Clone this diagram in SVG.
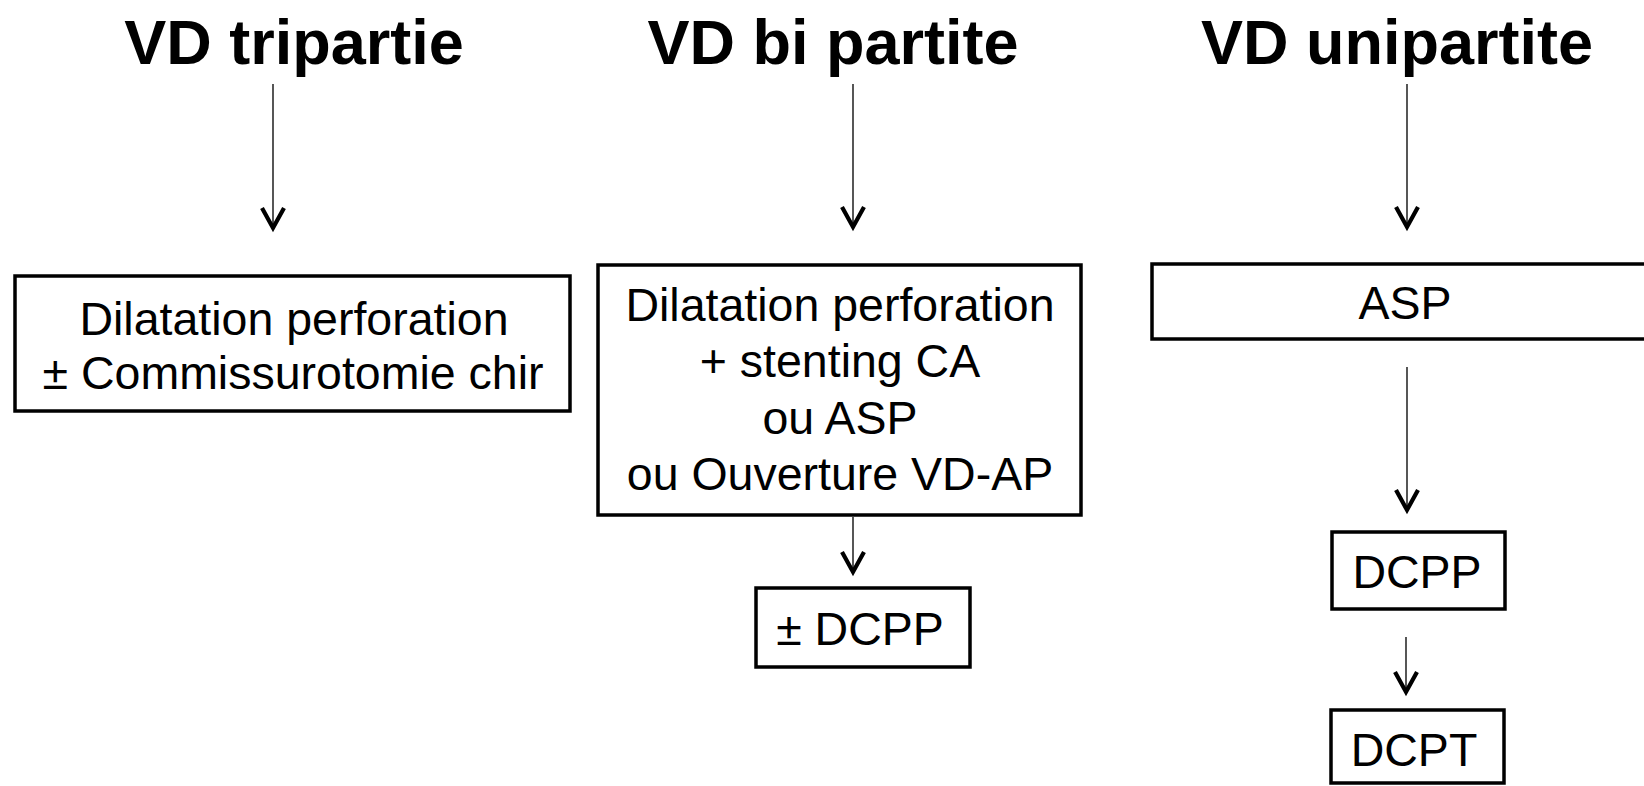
<svg xmlns="http://www.w3.org/2000/svg" width="1644" height="786" viewBox="0 0 1644 786">
<style>
.title{font-family:"Liberation Sans",Arial,sans-serif;font-weight:bold;font-size:63px;fill:#000;text-anchor:middle}
.lbl{font-family:"Liberation Sans",Arial,sans-serif;font-size:46.5px;fill:#000;text-anchor:middle}
.box{fill:#fff;stroke:#000;stroke-width:3.5}
.conn{stroke:#444;stroke-width:1.8;fill:none}
</style>
<defs>
<marker id="arr" markerUnits="userSpaceOnUse" viewBox="-26 -15 30 30" markerWidth="30" markerHeight="30" refX="0" refY="0" orient="auto" overflow="visible">
<path d="M -20 -11 L 0 0 L -20 11" fill="none" stroke="#000" stroke-width="4.2" stroke-linejoin="miter"/>
</marker>
</defs>
<rect width="1644" height="786" fill="#fff"/>
<g id="t1"><text class="title" x="294" y="64">VD tripartie</text></g>
<g id="t2"><text class="title" x="833" y="64">VD bi partite</text></g>
<g id="t3"><text class="title" x="1397" y="64">VD unipartite</text></g>
<g id="connectors">
<line class="conn" x1="273" y1="84" x2="273" y2="228" marker-end="url(#arr)"/>
<line class="conn" x1="853" y1="84" x2="853" y2="227" marker-end="url(#arr)"/>
<line class="conn" x1="1407" y1="84" x2="1407" y2="227" marker-end="url(#arr)"/>
<line class="conn" x1="853" y1="517" x2="853" y2="572" marker-end="url(#arr)"/>
<line class="conn" x1="1407" y1="367" x2="1407" y2="510" marker-end="url(#arr)"/>
<line class="conn" x1="1406" y1="637" x2="1406" y2="692" marker-end="url(#arr)"/>
</g>
<g id="n1">
<rect class="box" x="15" y="276" width="555" height="135"/>
<text class="lbl" x="294" y="335">Dilatation perforation</text>
<text class="lbl" x="293" y="389">± Commissurotomie chir</text>
</g>
<g id="n2">
<rect class="box" x="598" y="265" width="483" height="250"/>
<text class="lbl" x="840" y="321">Dilatation perforation</text>
<text class="lbl" x="840" y="377">+ stenting CA</text>
<text class="lbl" x="840" y="434">ou ASP</text>
<text class="lbl" x="840" y="490">ou Ouverture VD-AP</text>
</g>
<g id="n3">
<rect class="box" x="756" y="588" width="214" height="79"/>
<text class="lbl" x="860" y="645">± DCPP</text>
</g>
<g id="n4">
<rect class="box" x="1152" y="264" width="510" height="75"/>
<text class="lbl" x="1405" y="319">ASP</text>
</g>
<g id="n5">
<rect class="box" x="1332" y="532" width="173" height="77"/>
<text class="lbl" x="1417" y="588">DCPP</text>
</g>
<g id="n6">
<rect class="box" x="1331" y="710" width="173" height="73"/>
<text class="lbl" x="1414" y="766">DCPT</text>
</g>
</svg>
